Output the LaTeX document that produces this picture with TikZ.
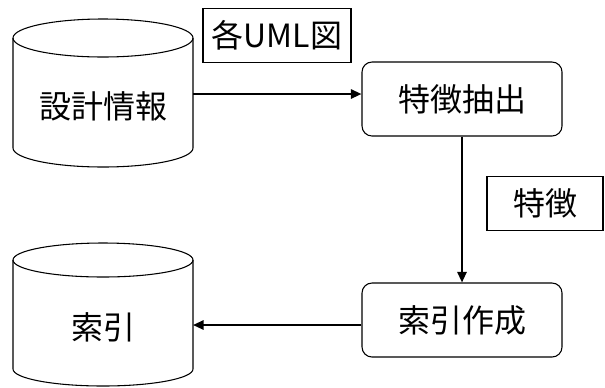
\documentclass[tikz,border=0pt]{standalone}
\usepackage{fontspec}
\setmainfont{Noto Sans CJK JP}
\usepackage{tikz}
\usetikzlibrary{positioning, arrows.meta, calc}

\begin{document}
\begin{tikzpicture}[x=0.75pt, y=-0.75pt,
    proc/.style={draw, rounded corners=7.5pt, line width=0.8pt, minimum width=150pt, minimum height=55.5pt},
    tag/.style={draw, line width=0.8pt, minimum height=40pt, inner sep=0pt},
    dbtext/.style={inner sep=0pt},
    arr/.style={line width=1.5pt, -{Triangle[length=8pt,width=7pt]}},
    font=\fontsize{24pt}{28pt}\selectfont]
\useasboundingbox (0,0) rectangle (605,387);

% databases
\draw[line width=0.8pt] (13,38) -- (13,148) arc[start angle=180, end angle=0, x radius=90, y radius=19] -- (193,38);
\draw[line width=0.8pt] (103,38) ellipse [x radius=90, y radius=19];
\node[dbtext] (info) at (103,106) {設計情報};

\draw[line width=0.8pt] (13,260) -- (13,369) arc[start angle=180, end angle=0, x radius=90, y radius=17] -- (193,260);
\draw[line width=0.8pt] (103,260) ellipse [x radius=90, y radius=17];
\node[dbtext] (index) at (103,327) {索引};

% processes
\node[proc] (feat) at (462,99) {特徴抽出};
\node[proc] (mkidx) at (462,320) {索引作成};

% labels
\node[tag, minimum width=111pt] (uml) at (277,35.5) {各UML図};
\node[tag, minimum width=87pt] (featlbl) at (545,203.5) {特徴};

\coordinate (infoR) at (193,94);
\coordinate (indexR) at (193,325);
\draw[arr] (infoR) -- (infoR -| feat.west);
\draw[arr] (feat.south) -- (mkidx.north);
\draw[arr] (mkidx.west |- indexR) -- (indexR);
\end{tikzpicture}
\end{document}
